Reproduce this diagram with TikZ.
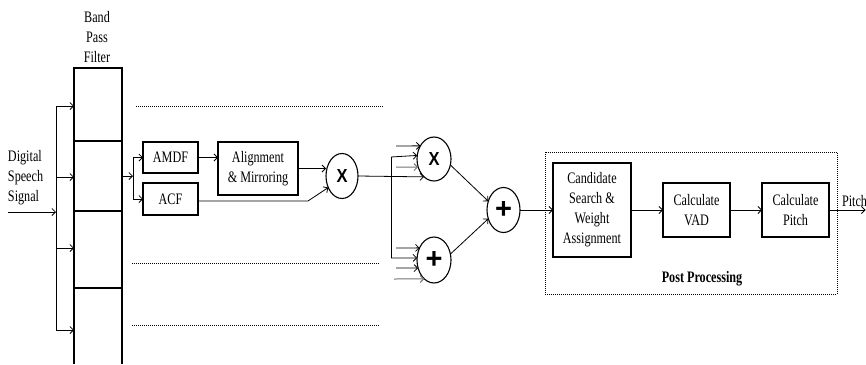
\documentclass[tikz,border=0pt]{standalone}
\usepackage{fontspec}
\usepackage{graphicx}
\setmainfont{Liberation Serif}[FakeStretch=0.76]
\newfontfamily\symfont{Liberation Sans}
\usetikzlibrary{arrows.meta,shapes.geometric}
\newcommand\mulsym{\resizebox{11pt}{13pt}{\symfont\bfseries X}}
\newcommand\addsym{\resizebox{!}{17pt}{\symfont\bfseries +}}
\begin{document}
\begin{tikzpicture}[x=1pt,y=-1pt,
  every node/.style={font=\fontsize{16}{20}\selectfont, inner sep=0pt, outer sep=0pt},
  blk/.style={draw, line width=1.1pt, align=center},
  sumnode/.style={draw, ellipse, line width=1.1pt, minimum width=34pt, minimum height=45pt},
  conn/.style={line width=0.8pt},
  arr/.style={conn, -{Straight Barb[length=3.5pt,width=7pt]}},
  grayarr/.style={arr, line width=1pt, black!55},
  dots/.style={line width=0.8pt, dash pattern=on 1pt off 1pt},
  lbl/.style={align=center}]
\useasboundingbox (0,0) rectangle (866,364);

% band pass filter
\node[blk, minimum width=48pt, minimum height=73pt] (f1) at (98,104.5) {};
\node[blk, minimum width=48pt, minimum height=70pt] (f2) at (98,176) {};
\node[blk, minimum width=48pt, minimum height=77pt] (f3) at (98,249.5) {};
\node[minimum width=48pt, minimum height=76pt] (f4) at (98,326) {};
\draw[line width=1.1pt] (f4.south west) -- (f4.north west) -- (f4.north east) -- (f4.south east);
\node[lbl] (bpf) at (97,37) {Band\\Pass\\Filter};

% input
\node[align=left, anchor=west] (dss) at (8,178) {Digital\\Speech\\Signal};
\coordinate (in) at (8,212);
\coordinate (b1) at (56,106);
\coordinate (b2) at (56,177);
\coordinate (b3) at (56,248);
\coordinate (b4) at (56,330);
\draw[conn] (b1) -- (b4);
\draw[arr] (in) -- (in -| b1);
\draw[arr] (b1) -- (b1 -| f1.west);
\draw[arr] (b2) -- (b2 -| f2.west);
\draw[arr] (b3) -- (b3 -| f3.west);
\draw[arr] (b4) -- (b4 -| f4.west);

% dotted placeholders
\draw[dots] (136,106) -- (383,106);
\draw[dots] (132,263) -- (380,263);
\draw[dots] (132,325) -- (380,325);

% AMDF / ACF branch
\node[blk, minimum width=55pt, minimum height=31pt] (amdf) at (170.5,157.5) {AMDF};
\node[blk, minimum width=55pt, minimum height=32pt] (acf) at (170.5,199) {ACF};
\node[blk, minimum width=80pt, minimum height=53pt] (align) at (258,168.5) {Alignment\\\& Mirroring};
\node[sumnode, minimum width=32pt, minimum height=45pt] (x1) at (342,176) {\mulsym};

\coordinate (s) at (133,176);
\draw[arr] (f2.east) -- (s);
\draw[conn] (s |- amdf) -- (s |- acf);
\draw[arr] (s |- amdf) -- (amdf.west);
\draw[arr] (s |- acf) -- (acf.west);
\draw[arr] (amdf.east) -- (amdf.east -| align.west);
\draw[arr] (align.east) -- (align.east -| x1.west);
\coordinate (acfb) at (308,201);
\draw[arr] (acf.east |- acfb) -- (acfb) -- (x1.220);

% combining stage
\node[sumnode, minimum width=34pt, minimum height=44pt] (x2) at (434,159) {\mulsym};
\node[sumnode, minimum width=34pt, minimum height=46pt] (p1) at (434,260) {\addsym};
\node[sumnode, minimum width=33pt, minimum height=45pt] (p2) at (503.5,210) {\addsym};

\draw[arr] (x1.east) -- (x2.241);
\coordinate (bt) at (391,157);
\coordinate (bb) at (391,258);
\draw[conn] (bt) -- (bb);
\draw[arr] (bt) -- (x2.168);
\coordinate (xa) at (396,146);
\coordinate (xc) at (396,167);
\draw[arr] (xa) -- (x2.136);
\draw[grayarr] (xc) -- (x2.207);

\draw[arr] (bb) -- (p1.173);
\coordinate (pa) at (396,248);
\coordinate (pc) at (396,268);
\coordinate (pd) at (394,279);
\draw[arr] (pa) -- (p1.140);
\draw[arr] (pc) -- (p1.207);
\draw[grayarr] (pd) -- (p1.243);

\draw[arr] (x2.-20) -- (p2.150);
\draw[arr] (p1.20) -- (p2.210);

% post processing
\node[draw, dots, minimum width=292pt, minimum height=142pt] (post) at (691,223) {};
\node[font=\fontsize{16}{20}\selectfont\bfseries] (postlbl) at (702,279) {Post Processing};
\node[blk, minimum width=78pt, minimum height=94pt] (cand) at (592,210) {Candidate\\Search \&\\Weight\\Assignment};
\node[blk, minimum width=67pt, minimum height=54pt] (vad) at (696.5,210) {Calculate\\VAD};
\node[blk, minimum width=67pt, minimum height=54pt] (pitch) at (795.5,210) {Calculate\\Pitch};
\coordinate (out) at (865.5,210);

\draw[arr] (p2.east) -- (cand.west);
\draw[arr] (cand.east) -- (vad.west);
\draw[arr] (vad.east) -- (pitch.west);
\draw[arr] (pitch.east) -- (out);
\node[anchor=base west] (pitchlbl) at (842,206) {Pitch};
\end{tikzpicture}
\end{document}
